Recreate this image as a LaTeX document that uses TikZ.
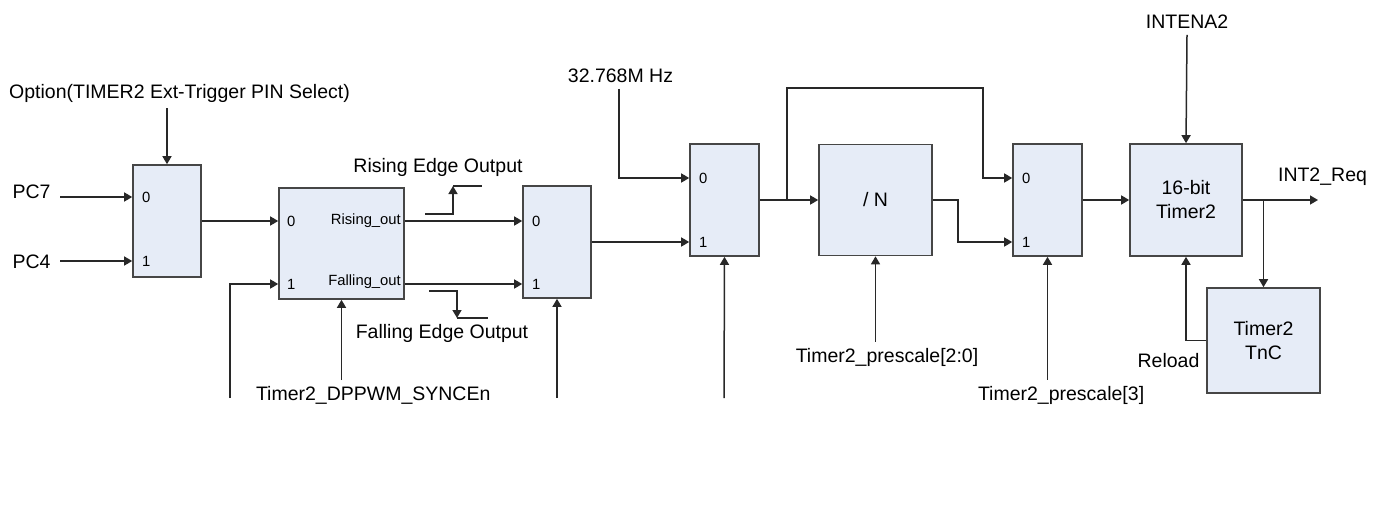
\documentclass[tikz,border=0pt]{standalone}
\usepackage{fontspec}
\setmainfont{Liberation Sans}
\usetikzlibrary{arrows.meta,calc,positioning}
\definecolor{boxfill}{RGB}{230,236,247}
\definecolor{boxline}{RGB}{70,70,70}
\definecolor{wire}{RGB}{40,40,40}

\begin{document}
\begin{tikzpicture}[x=1pt,y=-1pt,
  blk/.style={draw=boxline,fill=boxfill,line width=1.6pt,inner sep=0pt,align=center,font=\fontsize{19.5}{24}\selectfont},
  mux/.style={blk,minimum width=68pt,minimum height=112pt},
  pin/.style={font=\fontsize{14.8}{16}\selectfont,inner sep=0pt,anchor=west},
  lbl/.style={font=\fontsize{19.5}{22}\selectfont,inner sep=2pt,outer sep=4pt},
  wr/.style={draw=wire,line width=1.5pt},
  sig/.style={wr,-{Triangle[length=8pt,width=9pt]}}]
  \useasboundingbox (0,0) rectangle (1383,506);
  % blocks
  \node[mux] (mux1) at (167,221) {};
  \node[blk,minimum width=125pt,minimum height=111pt] (edge) at (341.5,243.5) {};
  \node[mux] (mux3) at (557,242) {};
  \node[mux,minimum width=69pt] (mux4) at (724.5,200) {};
  \node[blk,minimum width=113pt,minimum height=111pt] (divN) at (875.5,200) {/ N};
  \node[mux,minimum width=69pt] (mux5) at (1047.5,200) {};
  \node[blk,minimum width=112pt,minimum height=112pt] (tmr) at (1186,200) {16-bit\\Timer2};
  \node[blk,minimum width=113pt,minimum height=105pt] (tnc) at (1263.5,340.5) {Timer2\\TnC};
  % select inputs
  \node[pin] (m1a) at (142,197) {0};
  \node[pin] (m1b) at (142,261) {1};
  \node[pin] (e0) at (287,221) {0};
  \node[pin] (e1) at (287,284) {1};
  \node[pin,anchor=east] (rout) at (401,221) {Rising\_out};
  \node[pin,anchor=east] (fout) at (401,282) {Falling\_out};
  \node[pin] (m3a) at (532,221) {0};
  \node[pin] (m3b) at (532,284) {1};
  \node[pin] (m4a) at (699,178) {0};
  \node[pin] (m4b) at (699,242) {1};
  \node[pin] (m5a) at (1022,178) {0};
  \node[pin] (m5b) at (1022,242) {1};
  % labels
  \node[lbl] (opt) at (179.5,93) {Option(TIMER2 Ext-Trigger PIN Select)};
  \node[lbl,inner xsep=10pt,outer sep=0pt] (pc7) at (31.5,192) {PC7};
  \node[lbl,inner xsep=10pt,outer sep=0pt] (pc4) at (31.5,262) {PC4};
  \node[lbl] (rise) at (438,167) {Rising Edge Output};
  \node[lbl] (fall) at (442,333) {Falling Edge Output};
  \node[lbl,anchor=west] (dpp) at (250,395) {Timer2\_DPPWM\_SYNCEn};
  \node[lbl] (clk) at (620.5,76) {32.768M Hz};
  \node[lbl] (ps) at (887,357) {Timer2\_prescale[2:0]};
  \node[lbl,anchor=west] (ps3) at (972,395) {Timer2\_prescale[3]};
  \node[lbl] (inten) at (1187,22) {INTENA2};
  \node[lbl] (req) at (1322.5,177) {INT2\_Req};
  \node[lbl] (rel) at (1168.5,361) {Reload};
  \coordinate (sync) at (230,398);
  \coordinate (sel3) at (557,398);
  \coordinate (sel4) at (724,398);
  \coordinate (tap) at (787,200);
  \coordinate (byp) at (983,88);
  \coordinate (reqend) at (1318,200);
  % wires
  \draw[sig] (opt.south -| mux1.north) -- (mux1.north);
  \draw[sig] (pc7.east |- m1a) -- (mux1.west |- m1a);
  \draw[sig] (pc4.east |- m1b) -- (mux1.west |- m1b);
  \draw[sig] (mux1.east) -- (edge.west |- e0);
  \draw[sig] (sync) |- (edge.west |- e1);
  \draw[sig] (dpp.north -| edge.south) -- (edge.south);
  \draw[sig] (edge.east |- e0) -- (mux3.west |- m3a);
  \draw[sig] (edge.east |- e1) -- (mux3.west |- m3b);
  \draw[sig] (sel3) -- (mux3.south);
  \draw[sig] (mux3.east) -- (mux4.west |- m4b);
  \draw[sig] (clk.south -| 619,0) |- (mux4.west |- m4a);
  \draw[sig] (sel4) -- (mux4.south);
  \draw[sig] (mux4.east) -- (divN.west);
  \draw[sig] (tap) |- (byp) |- (mux5.west |- m5a);
  \draw[sig] (divN.east) -- ++(25,0) |- (mux5.west |- m5b);
  \draw[sig] (ps.north -| divN.south) -- (divN.south);
  \draw[sig] (ps3.north -| mux5.south) -- (mux5.south);
  \draw[sig] (mux5.east) -- (tmr.west);
  \draw[sig] (inten.south) -- (tmr.north);
  \draw[sig] (tmr.east) -- (reqend);
  \draw[sig] (tmr.east -| tnc.north) -- (tnc.north);
  \draw[sig] (tnc.west) -| (tmr.south);
  % edge symbols
  \draw[sig] (425,214) -- (453,214) -- (453,186);
  \draw[wr] (453,186) -- (482,186);
  \draw[sig] (429,291) -- (457,291) -- (457,318);
  \draw[wr] (457,318) -- (488,318);
\end{tikzpicture}
\end{document}
